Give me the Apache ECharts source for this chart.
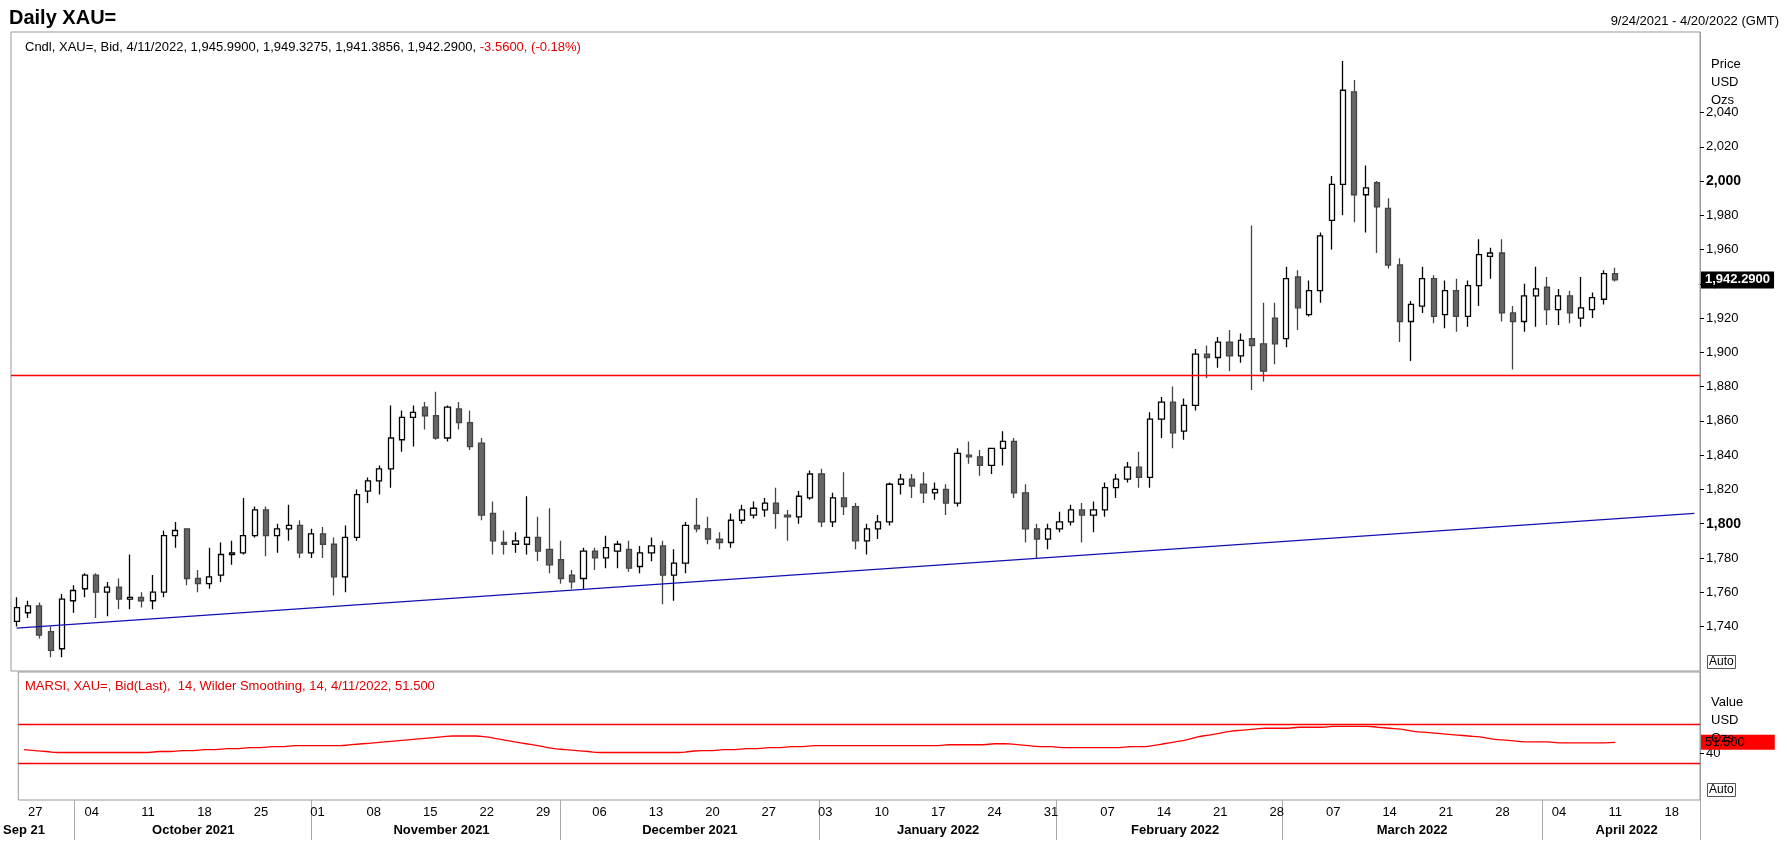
<!DOCTYPE html>
<html>
<head>
<meta charset="utf-8">
<script src="https://cdn.jsdelivr.net/npm/echarts@6/dist/echarts.min.js"></script>
<style>
  html, body { margin: 0; padding: 0; background: #fff; }
  #container { width: 1788px; height: 862px; }
</style>
</head>
<body>
<div id="container"></div>
<script>
// daily candles, [open, close, low, high], Sep 24 2021 .. Apr 11 2022 (weekdays)
var ohlc = [
  [1743,1751,1740,1757],
  [1748,1752,1745,1755],[1752,1735,1733,1754],[1737,1726,1722,1740],[1727,1756,1722,1759],[1755,1761,1748,1764],
  [1762,1770,1757,1771],[1770,1760,1745,1771],[1760,1763,1746,1766],[1763,1756,1750,1768],[1756,1757,1750,1782],
  [1757,1755,1751,1760],[1755,1760,1750,1770],[1760,1793,1757,1796],[1793,1796,1786,1801],[1797,1768,1764,1797],
  [1768,1765,1760,1773],[1765,1769,1762,1786],[1770,1782,1766,1789],[1782,1783,1776,1790],[1783,1793,1782,1815],
  [1793,1808,1792,1810],[1808,1793,1781,1810],[1793,1797,1783,1800],[1797,1799,1790,1811],[1799,1783,1780,1802],
  [1783,1794,1780,1797],[1794,1788,1780,1798],[1788,1769,1758,1792],[1769,1792,1760,1799],[1792,1817,1790,1820],
  [1819,1825,1812,1827],[1825,1832,1817,1834],[1832,1850,1821,1869],[1849,1862,1842,1866],[1862,1865,1845,1869],
  [1868,1863,1855,1871],[1863,1850,1849,1877],[1850,1868,1848,1869],[1867,1859,1855,1871],[1859,1845,1843,1866],
  [1847,1805,1802,1850],[1806,1790,1782,1813],[1789,1788,1782,1796],[1788,1790,1783,1795],[1788,1792,1782,1816],
  [1792,1784,1778,1804],[1785,1776,1771,1809],[1779,1768,1765,1790],[1770,1766,1762,1773],[1768,1784,1762,1786],
  [1784,1780,1773,1786],[1780,1786,1774,1793],[1784,1788,1774,1790],[1785,1774,1772,1790],[1775,1783,1771,1787],
  [1783,1787,1778,1792],[1787,1770,1753,1790],[1770,1777,1755,1785],[1777,1799,1771,1801],[1799,1797,1795,1815],
  [1797,1791,1788,1804],[1791,1789,1785,1795],[1789,1802,1786,1806],[1802,1808,1800,1811],[1805,1809,1803,1813],
  [1808,1812,1804,1815],[1812,1806,1797,1821],[1805,1804,1790,1808],[1804,1816,1800,1819],[1815,1829,1814,1831],
  [1829,1801,1798,1832],[1801,1815,1798,1818],[1815,1810,1805,1830],[1810,1790,1785,1812],[1790,1797,1782,1800],
  [1797,1801,1791,1805],[1801,1823,1799,1824],[1823,1826,1817,1829],[1826,1822,1815,1829],[1823,1818,1812,1830],
  [1818,1820,1814,1824],[1820,1812,1805,1823],[1812,1841,1810,1844],[1840,1839,1835,1848],[1839,1834,1828,1843],
  [1834,1844,1829,1844],[1844,1848,1834,1854],[1848,1818,1815,1850],[1818,1797,1789,1823],[1797,1791,1780,1800],
  [1791,1797,1785,1800],[1797,1801,1795,1807],[1801,1808,1799,1811],[1808,1805,1789,1812],[1805,1808,1795,1813],
  [1808,1821,1804,1824],[1821,1826,1815,1829],[1826,1833,1824,1836],[1833,1827,1821,1842],[1827,1861,1821,1865],
  [1861,1871,1850,1874],[1871,1853,1844,1880],[1854,1869,1849,1873],[1869,1899,1866,1902],[1899,1897,1885,1904],
  [1897,1906,1891,1909],[1906,1898,1889,1913],[1898,1907,1894,1911],[1908,1904,1878,1974],[1905,1889,1883,1929],
  [1920,1905,1893,1929],[1908,1943,1903,1950],[1944,1926,1913,1948],[1922,1936,1921,1942],[1936,1968,1929,1970],
  [1977,1998,1960,2003],[1998,2053,1980,2070],[2052,1992,1976,2059],[1992,1996,1970,2009],[1999,1985,1958,2000],
  [1984,1951,1949,1990],[1951,1918,1906,1955],[1918,1928,1895,1930],[1927,1943,1923,1950],[1943,1921,1917,1945],
  [1922,1936,1914,1942],[1936,1921,1912,1943],[1921,1939,1915,1942],[1939,1957,1927,1966],[1956,1958,1943,1961],
  [1958,1923,1918,1966],[1923,1918,1890,1927],[1918,1933,1912,1940],[1933,1937,1915,1950],[1938,1925,1916,1944],
  [1925,1933,1916,1937],[1933,1923,1917,1936],[1920,1926,1915,1944],[1925,1932,1920,1935],[1931,1946,1928,1948],
  [1945.99,1942.29,1941.3856,1949.3275]
];
var rsi = [
  44,
  43,42,41,41,41, 41,41,41,41,41, 41,42,42,43,43, 44,44,45,45,46, 46,47,47,48,48,
  48,48,48,49,50, 51,52,53,54,55, 56,57,58,58,58, 57,55,53,51,49, 47,45,44,43,42,
  41,41,41,41,41, 41,41,41,42,43, 43,44,44,45,45, 46,46,47,47,48, 48,48,48,48,48,
  48,48,48,48,48, 48,49,49,49,49, 50,50,49,48,47, 47,46,46,46,46, 46,46,47,47,48,
  50,52,54,57,59, 61,63,64,65,66, 66,66,67,67,67, 68,68,68,68,67, 66,65,63,62,61,
  60,59,58,57,55, 54,53,52,52,52, 51,51,51,51,51,
  51.5
];
var priceTicks = [1740,1760,1780,1800,1820,1840,1860,1880,1900,1920,1940,1960,1980,2000,2020,2040];
var boldTicks = [1800, 2000];
var resistance = 1886.5;
var trendStart = 1739, trendEnd = 1806;
var lastClose = 1942.29, lastRsi = 51.5;
var rsiBands = [70, 30];
var monthNames = ['January','February','March','April','May','June','July','August','September','October','November','December'];

// weekday calendar out to 4/20/2022
var dates = [];
var d = new Date(Date.UTC(2021, 8, 24));
while (d <= new Date(Date.UTC(2022, 3, 20))) {
  var wd = d.getUTCDay();
  if (wd > 0 && wd < 6) dates.push(d.toISOString().slice(0, 10));
  d = new Date(d.getTime() + 86400000);
}
function isMonday(i) { return new Date(dates[i] + 'T00:00:00Z').getUTCDay() === 1; }
function monthOf(i) { return dates[i].slice(0, 7); }
// middle index of each month
var monthMid = {};
var spans = {};
dates.forEach(function (s, i) {
  var m = monthOf(i);
  if (!spans[m]) spans[m] = [i, i];
  spans[m][1] = i;
});
Object.keys(spans).forEach(function (m) {
  if (m === '2021-09') monthMid[0] = 'Sep 21';
  else {
    var mid = Math.round((spans[m][0] + spans[m][1]) / 2);
    var parts = m.split('-');
    monthMid[mid] = monthNames[+parts[1] - 1] + ' ' + parts[0];
  }
});

var fmt = function (v) { return v.toLocaleString('en-US'); };
var font = 'Arial, "Liberation Sans", sans-serif';

var dom = document.getElementById('container');
var myChart = echarts.init(dom, null, { renderer: 'canvas' });

var option = {
  animation: false,
  textStyle: { fontFamily: font },
  title: [
    { text: 'Daily XAU=', left: 4, top: 3, textStyle: { fontSize: 20, fontWeight: 'bold', color: '#000', fontFamily: font } },
    { text: '9/24/2021 - 4/20/2022 (GMT)', right: 4, top: 10, textStyle: { fontSize: 13, fontWeight: 'normal', color: '#000', fontFamily: font } },
    { text: 'Cndl, XAU=, Bid, 4/11/2022, 1,945.9900, 1,949.3275, 1,941.3856, 1,942.2900, {r|-3.5600, (-0.18%)}',
      left: 20, top: 36, textStyle: { fontSize: 13, fontWeight: 'normal', color: '#000', fontFamily: font, rich: { r: { color: '#e00000', fontSize: 13 } } } },
    { text: 'MARSI, XAU=, Bid(Last),  14, Wilder Smoothing, 14, 4/11/2022, 51.500',
      left: 20, top: 675, textStyle: { fontSize: 13, fontWeight: 'normal', color: '#e00000', fontFamily: font } },
    { text: 'Price\nUSD\nOzs', left: 1706, top: 50, textStyle: { fontSize: 13, fontWeight: 'normal', color: '#000', lineHeight: 18, fontFamily: font } },
    { text: 'Value\nUSD\nOzs', left: 1706, top: 688, textStyle: { fontSize: 13, fontWeight: 'normal', color: '#000', lineHeight: 18, fontFamily: font } },
    { text: 'Auto', left: 1707, top: 655, textStyle: { fontSize: 12, fontWeight: 'normal', color: '#000', fontFamily: font }, backgroundColor: '#fff', borderColor: '#555', borderWidth: 1, padding: [1, 2] },
    { text: 'Auto', left: 1707, top: 783, textStyle: { fontSize: 12, fontWeight: 'normal', color: '#000', fontFamily: font }, backgroundColor: '#fff', borderColor: '#555', borderWidth: 1, padding: [1, 2] }
  ],
  grid: [
    { left: 11, right: 88, top: 32, height: 639, show: true, borderColor: '#999', borderWidth: 1 },
    { left: 11, right: 88, top: 672, height: 128, show: true, borderColor: '#999', borderWidth: 1 }
  ],
  xAxis: [
    { type: 'category', gridIndex: 0, data: dates, axisLine: { show: false }, axisTick: { show: false }, axisLabel: { show: false } },
    { type: 'category', gridIndex: 1, data: dates, position: 'bottom',
      axisLine: { show: false },
      axisTick: { show: false },
      axisLabel: { color: '#000', fontSize: 13, margin: 6,
        interval: function (i) { return isMonday(i); },
        formatter: function (v) { return v.slice(8, 10); } } },
    { type: 'category', gridIndex: 1, data: dates, position: 'bottom',
      axisLine: { show: false },
      axisTick: { show: true, length: 40, inside: false, lineStyle: { color: '#aaa' },
        interval: function (i) { return i > 0 && monthOf(i) !== monthOf(i - 1); } },
      axisLabel: { color: '#000', fontSize: 13, fontWeight: 'bold', margin: 24,
        interval: function (i) { return monthMid[i] !== undefined; },
        formatter: function (v, i) { return monthMid[i] || ''; },
        align: 'center' } }
  ],
  yAxis: [
    { type: 'value', gridIndex: 0, position: 'right', min: 1714, max: 2087, splitLine: { show: false },
      axisLine: { show: true, lineStyle: { color: '#999' } },
      axisTick: { show: true, length: 4, lineStyle: { color: '#000' }, customValues: priceTicks },
      axisLabel: { color: '#000', fontSize: 13, margin: 6, customValues: priceTicks,
        formatter: function (v) { return boldTicks.indexOf(v) >= 0 ? '{b|' + fmt(v) + '}' : fmt(v); },
        rich: { b: { fontWeight: 'bold', fontSize: 14, color: '#000' } } } },
    { type: 'value', gridIndex: 1, position: 'right', min: -8, max: 124, splitLine: { show: false },
      axisLine: { show: true, lineStyle: { color: '#999' } },
      axisTick: { show: true, length: 4, lineStyle: { color: '#000' }, customValues: [40] },
      axisLabel: { color: '#000', fontSize: 13, margin: 6, customValues: [40] } }
  ],
  series: [
    {
      type: 'candlestick', xAxisIndex: 0, yAxisIndex: 0, data: ohlc, barMaxWidth: 9,
      itemStyle: { color: '#ffffff', borderColor: '#000', color0: '#666666', borderColor0: '#444', borderWidth: 1.3 },
      markLine: {
        silent: true, symbol: 'none', animation: false,
        data: [
          { yAxis: resistance, lineStyle: { color: '#ff0000', width: 1.3, type: 'solid' }, label: { show: false } },
          [ { coord: [dates[0], trendStart] }, { coord: [dates[dates.length - 1], trendEnd] } ],
          { yAxis: lastClose, lineStyle: { color: 'rgba(0,0,0,0)', width: 0 },
            label: { show: true, position: 'end', formatter: '1,942.2900', color: '#fff', fontWeight: 'bold', fontSize: 13,
              backgroundColor: '#000', padding: [2, 4], distance: 1 } }
        ],
        lineStyle: { color: '#1010b0', width: 1.2, type: 'solid' },
        label: { show: false }
      }
    },
    {
      type: 'line', xAxisIndex: 1, yAxisIndex: 1, data: rsi, showSymbol: false, smooth: true,
      lineStyle: { color: '#ff0000', width: 1.3 },
      markLine: {
        silent: true, symbol: 'none', animation: false,
        data: [
          { yAxis: rsiBands[0] }, { yAxis: rsiBands[1] },
          { yAxis: lastRsi, lineStyle: { color: 'rgba(0,0,0,0)', width: 0 },
            label: { show: true, position: 'end', formatter: '51.500', color: '#000', fontSize: 13,
              backgroundColor: '#ff0000', padding: [1, 30, 1, 4], distance: 1 } }
        ],
        lineStyle: { color: '#ff0000', width: 1.3, type: 'solid' },
        label: { show: false }
      }
    }
  ]
};

myChart.setOption(option);
window.addEventListener('resize', myChart.resize);
</script>
</body>
</html>
